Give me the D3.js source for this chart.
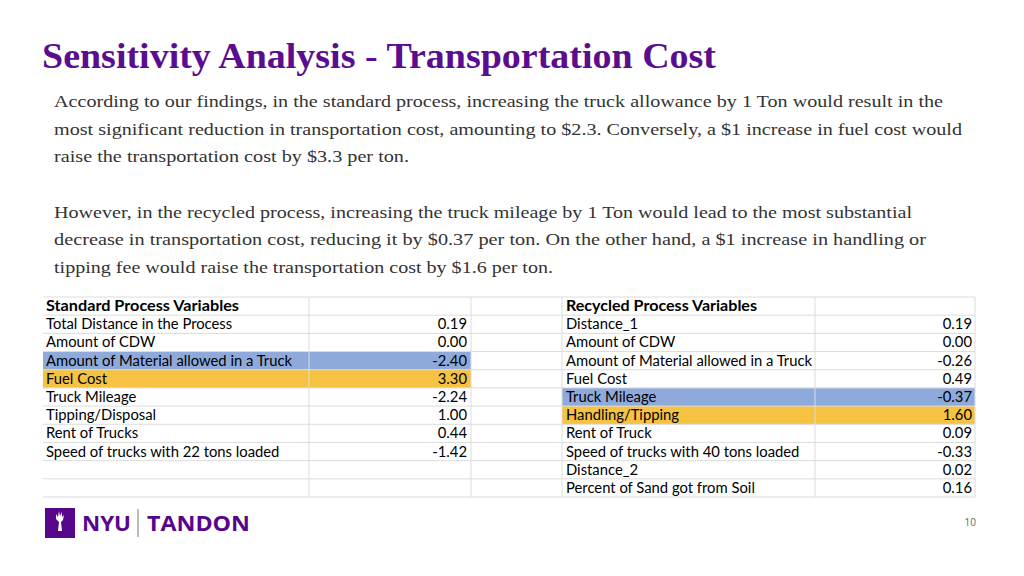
<!DOCTYPE html>
<html>
<head>
<meta charset="utf-8">
<script src="https://cdn.jsdelivr.net/npm/d3@7"></script>
<style>
  body { margin: 0; background: #fff; }
  svg { display: block; }
</style>
</head>
<body>
<svg id="slide" width="1024" height="576"></svg>
<script>
// slide text
let title = "Sensitivity Analysis - Transportation Cost";
let paragraph = [
  "According to our findings, in the standard process, increasing the truck allowance by 1 Ton would result in the",
  "most significant reduction in transportation cost, amounting to $2.3. Conversely, a $1 increase in fuel cost would",
  "raise the transportation cost by $3.3 per ton.",
  "",
  "However, in the recycled process, increasing the truck mileage by 1 Ton would lead to the most substantial",
  "decrease in transportation cost, reducing it by $0.37 per ton. On the other hand, a $1 increase in handling or",
  "tipping fee would raise the transportation cost by $1.6 per ton."
];

// table data
let stdHeader = "Standard Process Variables";
let stdVariables = ["Total Distance in the Process", "Amount of CDW", "Amount of Material allowed in a Truck",
                    "Fuel Cost", "Truck Mileage", "Tipping/Disposal", "Rent of Trucks", "Speed of trucks with 22 tons loaded"];
let stdValues = [0.19, 0.00, -2.40, 3.30, -2.24, 1.00, 0.44, -1.42];

let recHeader = "Recycled Process Variables";
let recVariables = ["Distance_1", "Amount of CDW", "Amount of Material allowed in a Truck", "Fuel Cost", "Truck Mileage",
                    "Handling/Tipping", "Rent of Truck", "Speed of trucks with 40 tons loaded", "Distance_2", "Percent of Sand got from Soil"];
let recValues = [0.19, 0.00, -0.26, 0.49, -0.37, 1.60, 0.09, -0.33, 0.02, 0.16];

let pageNumber = "10";

let svg = d3.select("#slide");

// squeeze or stretch a text element to a target width
function fit(sel, w) {
  sel.each(function() {
    if (w) d3.select(this).attr("textLength", w).attr("lengthAdjust", "spacingAndGlyphs");
  });
}

// title
svg.append("text")
   .attr("x", 42).attr("y", 68)
   .attr("font-family", "Liberation Serif, serif")
   .attr("font-weight", "bold")
   .attr("font-size", 36)
   .attr("fill", "#5a0d8e")
   .text(title)
   .call(fit, 674);

// paragraph
let lineWidths = [889, 908, 355, 0, 858, 872, 499];
let lineY = d3.scaleLinear().domain([0, 6]).range([107, 273]);
svg.selectAll("text.para")
   .data(paragraph)
   .enter()
   .append("text")
   .attr("class", "para")
   .attr("x", 54)
   .attr("y", (d, i) => lineY(i))
   .attr("font-family", "Liberation Serif, serif")
   .attr("font-size", 17)
   .attr("fill", "#333")
   .text(d => d)
   .each(function(d, i) { if (d) fit(d3.select(this), lineWidths[i]); });

// spreadsheet grid
let nRows = 11;
let y = d3.scaleBand().domain(d3.range(nRows)).range([297, 497]);
let cols = [43, 309, 471, 562, 815, 975];
let grid = svg.append("g");

// highlight rows: smallest value blue, largest yellow
function highlight(values, x0, x1) {
  let lo = d3.min(values), hi = d3.max(values);
  values.forEach((v, i) => {
    let fill = v === lo ? "#8eaadb" : v === hi ? "#f5c242" : null;
    if (fill) grid.append("rect")
                  .attr("x", x0).attr("y", y(i + 1))
                  .attr("width", x1 - x0).attr("height", y.bandwidth())
                  .attr("fill", fill);
  });
}
highlight(stdValues, cols[0], cols[2]);
highlight(recValues, cols[3], cols[5]);

grid.selectAll("line.h")
    .data(d3.range(nRows + 1))
    .enter()
    .append("line")
    .attr("x1", cols[0]).attr("x2", cols[5])
    .attr("y1", d => d === nRows ? 497 : y(d))
    .attr("y2", d => d === nRows ? 497 : y(d))
    .attr("stroke", "#dcdcdc").attr("stroke-width", 1);

grid.selectAll("line.v")
    .data(cols.slice(1))
    .enter()
    .append("line")
    .attr("x1", d => d).attr("x2", d => d)
    .attr("y1", 297).attr("y2", 497)
    .attr("stroke", "#dcdcdc").attr("stroke-width", 1);

function table(header, names, values, xl, xr, headerWidth) {
  let g = svg.append("g")
             .attr("font-family", "Lato, sans-serif")
             .attr("font-size", 14.8)
             .attr("fill", "#000");
  g.append("text")
   .attr("x", xl).attr("y", y(0) + y.bandwidth() / 2 + 5)
   .attr("font-weight", "bold")
   .text(header)
   .call(fit, headerWidth);
  g.selectAll("text.name")
   .data(names)
   .enter()
   .append("text")
   .attr("class", "name")
   .attr("x", xl)
   .attr("y", (d, i) => y(i + 1) + y.bandwidth() / 2 + 5)
   .text(d => d);
  g.selectAll("text.val")
   .data(values)
   .enter()
   .append("text")
   .attr("class", "val")
   .attr("x", xr)
   .attr("y", (d, i) => y(i + 1) + y.bandwidth() / 2 + 5)
   .attr("text-anchor", "end")
   .text(d => d.toFixed(2));
}
table(stdHeader, stdVariables, stdValues, 46, 467, 193);
table(recHeader, recVariables, recValues, 566, 972, 191);

// logo
let logo = svg.append("g");
logo.append("rect").attr("x", 45).attr("y", 508).attr("width", 30).attr("height", 30).attr("fill", "#57068c");
logo.append("path")
    .attr("d", "M58,531 L59,522 L56,519 L56,514 L58,517 L59,511 L60,516 L62,512 L62,517 L64,515 L63,520 L61,522 L62,531 Z")
    .attr("fill", "#fff");
logo.append("text")
    .attr("x", 82).attr("y", 531)
    .attr("font-family", "Open Sans, sans-serif").attr("font-weight", "bold")
    .attr("font-size", 22).attr("fill", "#57068c")
    .text("NYU").call(fit, 49);
logo.append("line").attr("x1", 138).attr("x2", 138).attr("y1", 509).attr("y2", 537)
    .attr("stroke", "#777").attr("stroke-width", 1);
logo.append("text")
    .attr("x", 147).attr("y", 531)
    .attr("font-family", "Open Sans, sans-serif").attr("font-weight", "bold")
    .attr("font-size", 22).attr("fill", "#57068c")
    .text("TANDON").call(fit, 103);

svg.append("text")
   .attr("x", 976).attr("y", 526)
   .attr("text-anchor", "end")
   .attr("font-family", "Open Sans, sans-serif")
   .attr("font-size", 10).attr("fill", "#666")
   .text(pageNumber);
</script>
</body>
</html>
